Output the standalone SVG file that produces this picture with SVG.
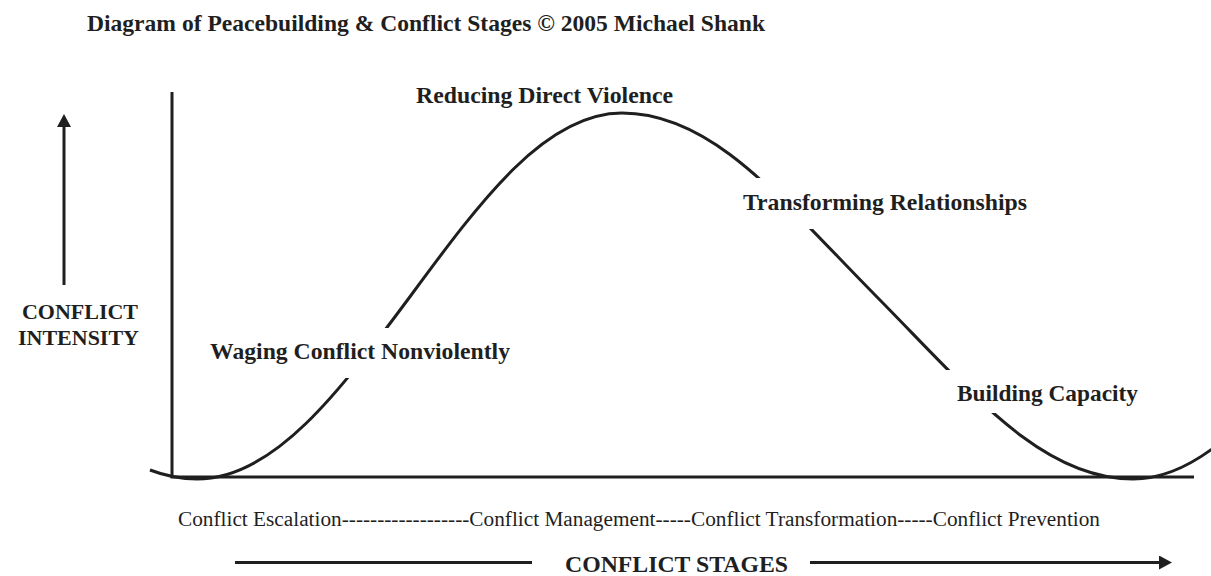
<svg xmlns="http://www.w3.org/2000/svg" width="1211" height="576" viewBox="0 0 1211 576">
<defs>
<style>
.t{font-family:"Liberation Serif","Times New Roman",serif;fill:#1f1f1f}
.b{font-weight:bold;font-size:23.5px}
.yl{font-weight:bold;font-size:22px}
.st{font-size:21.3px}
.ln{stroke:#1f1f1f;stroke-width:3;fill:none}
</style>
<marker id="ah" markerUnits="userSpaceOnUse" markerWidth="13" markerHeight="14" viewBox="0 0 13 14" refX="0" refY="7" orient="auto">
<path d="M0,0 L13,7 L0,14 z" fill="#1f1f1f"/>
</marker>
<mask id="gaps" maskUnits="userSpaceOnUse" x="0" y="0" width="1211" height="576">
<rect x="0" y="0" width="1211" height="576" fill="#fff"/>
<rect x="300" y="328" width="120" height="50" fill="#000"/>
<rect x="720" y="178" width="130" height="51" fill="#000"/>
<rect x="920" y="370" width="100" height="43" fill="#000"/>
</mask>
</defs>
<rect x="0" y="0" width="1211" height="576" fill="#fff"/>

<g id="title">
<text class="t b" x="87" y="31" textLength="678" lengthAdjust="spacingAndGlyphs">Diagram of Peacebuilding &amp; Conflict Stages © 2005 Michael Shank</text>
</g>

<g id="axes">
<path class="ln" d="M172,92 L172,477 L1194,477"/>
</g>

<g id="y-axis-label">
<path class="ln" d="M64,285 L64,127" marker-end="url(#ah)"/>
<text class="t yl" x="138" y="319" text-anchor="end">CONFLICT</text>
<text class="t yl" x="139" y="345" text-anchor="end">INTENSITY</text>
</g>

<g id="curve">
<path class="ln" mask="url(#gaps)" d="M150,470 Q173.5,479 197,479 C274.2,479 339.1,392.1 410.5,296 C481.2,199.9 545.5,113 622,113 C713,113 781,199.9 876,296 C971,392.1 1041,479 1133,479 C1210.2,479 1275.1,392.1 1346.5,296"/>
</g>

<g id="label-reducing">
<text class="t b" x="416" y="103" textLength="257" lengthAdjust="spacingAndGlyphs">Reducing Direct Violence</text>
</g>
<g id="label-transforming">
<text class="t b" x="743" y="210" textLength="284" lengthAdjust="spacingAndGlyphs">Transforming Relationships</text>
</g>
<g id="label-waging">
<text class="t b" x="210" y="359" textLength="300" lengthAdjust="spacingAndGlyphs">Waging Conflict Nonviolently</text>
</g>
<g id="label-building">
<text class="t b" x="957" y="401" textLength="181" lengthAdjust="spacingAndGlyphs">Building Capacity</text>
</g>

<g id="stages">
<text class="t st" x="178" y="526" textLength="922" lengthAdjust="spacingAndGlyphs">Conflict Escalation------------------Conflict Management-----Conflict Transformation-----Conflict Prevention</text>
</g>

<g id="x-axis-label">
<path class="ln" d="M235,562.5 L532,562.5"/>
<path class="ln" d="M810,562.5 L1159,562.5" marker-end="url(#ah)"/>
<text class="t b" x="565" y="572" textLength="223" lengthAdjust="spacingAndGlyphs">CONFLICT STAGES</text>
</g>
</svg>
